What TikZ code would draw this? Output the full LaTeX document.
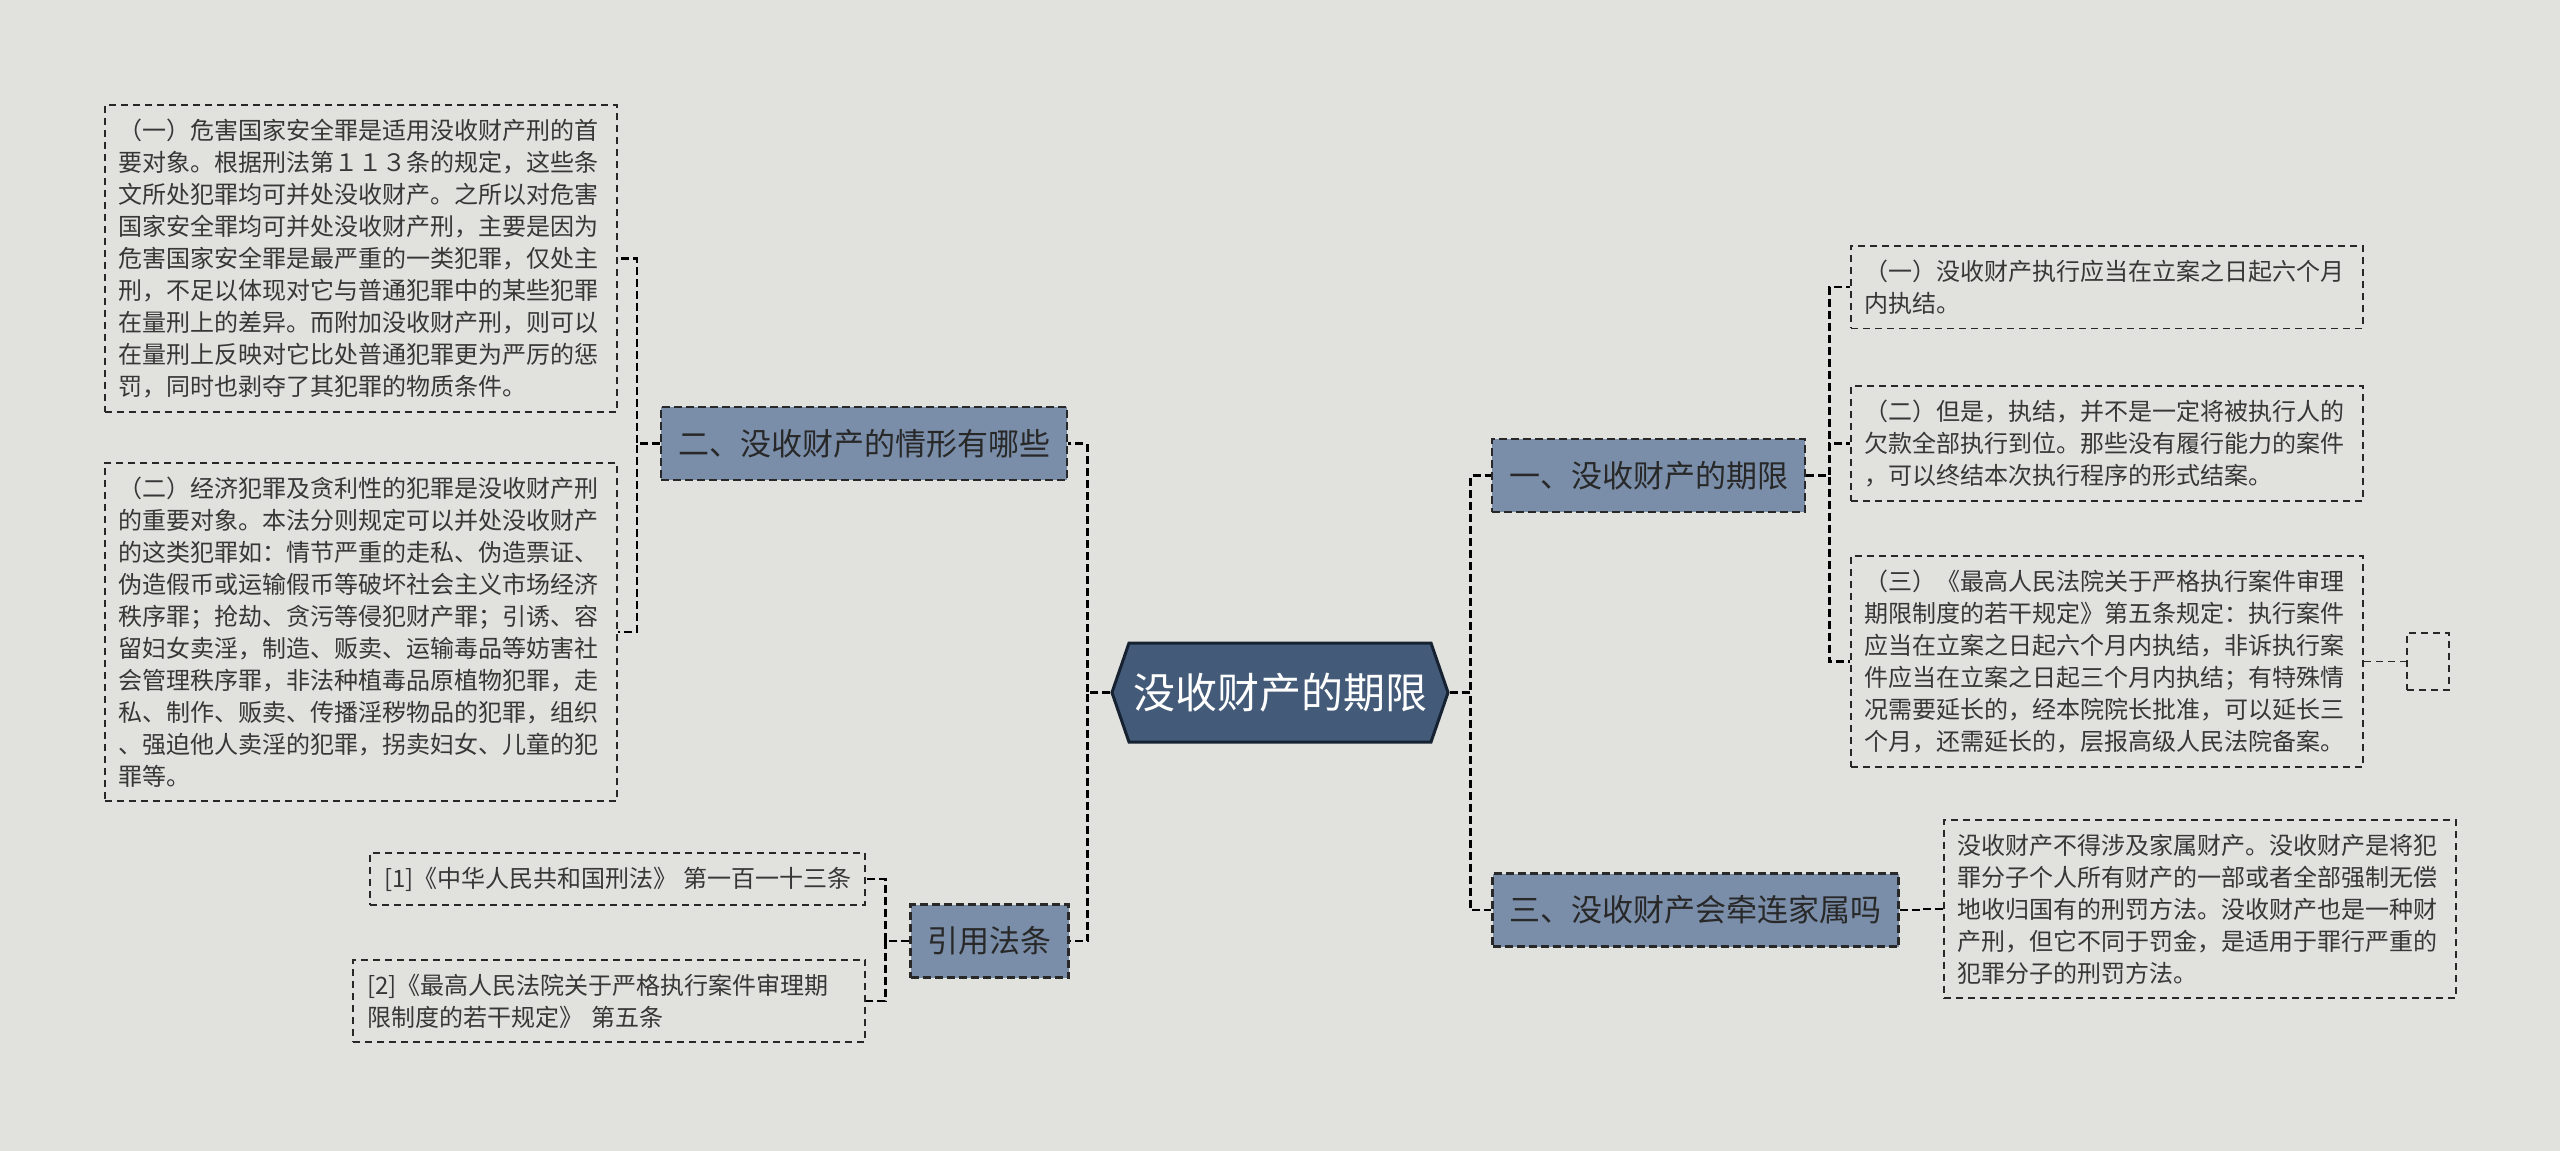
\documentclass[tikz,border=0pt]{standalone}
\usepackage{fontspec}
\setmainfont{Noto Sans CJK SC}
\usetikzlibrary{shapes.symbols}

\definecolor{canvas}{RGB}{225,226,221}
\definecolor{hubfill}{RGB}{67,90,120}
\definecolor{hubedge}{RGB}{22,34,50}
\definecolor{topicfill}{RGB}{122,142,170}
\definecolor{inkdark}{RGB}{40,40,40}
\definecolor{inkgray}{RGB}{55,55,55}

\tikzset{
  every node/.style={font=\fontsize{12}{16}\selectfont, text=inkgray},
  hub/.style={shape=signal, signal to=west and east, signal pointer angle=142, fill=hubfill, draw=hubedge, line width=1.5pt, text=white, font=\fontsize{21}{25}\selectfont, minimum height=49.5pt, inner xsep=2pt},
  topicbox/.style={fill=topicfill, draw=inkdark, line width=1.2pt, dash pattern=on 4pt off 2pt, text=inkdark, font=\fontsize{15.5}{18}\selectfont, minimum height=36.5pt, inner xsep=8.5pt},
  leafbox/.style={draw=inkdark, line width=0.9pt, dash pattern=on 3.5pt off 2.5pt, align=left, inner xsep=7pt, inner ysep=7pt},
  link/.style={draw=black, line width=1.3pt, dash pattern=on 4pt off 2pt},
  thinlink/.style={draw=inkdark, line width=0.9pt, dash pattern=on 3.5pt off 2.5pt},
}

\begin{document}
\begin{tikzpicture}[x=0.5pt,y=-0.5pt]
    \fill[canvas] (0,0) rectangle (2560,1151);
    \useasboundingbox (0,0) rectangle (2560,1151);

    \node[hub] (hub) at (1280,692.5) {没收财产的期限};

    \node[topicbox] (t2) at (864,443.5) {二、没收财产的情形有哪些};
    \node[topicbox] (tcite) at (989.5,941) {引用法条};
    \node[topicbox] (t1) at (1648.5,475.5) {一、没收财产的期限};
    \node[topicbox] (t3) at (1695.5,910) {三、没收财产会牵连家属吗};

    \node[leafbox, anchor=north west, text width=242pt] (l1) at (104,104) {（一）危害国家安全罪是适用没收财产刑的首\\要对象。根据刑法第１１３条的规定，这些条\\文所处犯罪均可并处没收财产。之所以对危害\\国家安全罪均可并处没收财产刑，主要是因为\\危害国家安全罪是最严重的一类犯罪，仅处主\\刑，不足以体现对它与普通犯罪中的某些犯罪\\在量刑上的差异。而附加没收财产刑，则可以\\在量刑上反映对它比处普通犯罪更为严厉的惩\\罚，同时也剥夺了其犯罪的物质条件。};
    \node[leafbox, anchor=north west, text width=242pt] (l2) at (104,462) {（二）经济犯罪及贪利性的犯罪是没收财产刑\\的重要对象。本法分则规定可以并处没收财产\\的这类犯罪如：情节严重的走私、伪造票证、\\伪造假币或运输假币等破坏社会主义市场经济\\秩序罪；抢劫、贪污等侵犯财产罪；引诱、容\\留妇女卖淫，制造、贩卖、运输毒品等妨害社\\会管理秩序罪，非法种植毒品原植物犯罪，走\\私、制作、贩卖、传播淫秽物品的犯罪，组织\\、强迫他人卖淫的犯罪，拐卖妇女、儿童的犯\\罪等。};
    \node[leafbox, anchor=north east] (c1) at (866,852) {[1]《中华人民共和国刑法》 第一百一十三条};
    \node[leafbox, anchor=north east, text width=242pt] (c2) at (866,959) {[2]《最高人民法院关于严格执行案件审理期\\限制度的若干规定》 第五条};

    \node[leafbox, anchor=north west, text width=242pt] (r1) at (1850,245) {（一）没收财产执行应当在立案之日起六个月\\内执结。};
    \node[leafbox, anchor=north west, text width=242pt] (r2) at (1850,385) {（二）但是，执结，并不是一定将被执行人的\\欠款全部执行到位。那些没有履行能力的案件\\，可以终结本次执行程序的形式结案。};
    \node[leafbox, anchor=north west, text width=242pt] (r3) at (1850,555) {（三）《最高人民法院关于严格执行案件审理\\期限制度的若干规定》第五条规定：执行案件\\应当在立案之日起六个月内执结，非诉执行案\\件应当在立案之日起三个月内执结；有特殊情\\况需要延长的，经本院院长批准，可以延长三\\个月，还需延长的，层报高级人民法院备案。};
    \node[leafbox, minimum width=21pt, minimum height=28.5pt, inner sep=0pt] (r3note) at ([xshift=32pt]r3.east) {};
    \node[leafbox, anchor=north west, text width=242pt] (r4) at (1943,819) {没收财产不得涉及家属财产。没收财产是将犯\\罪分子个人所有财产的一部或者全部强制无偿\\地收归国有的刑罚方法。没收财产也是一种财\\产刑，但它不同于罚金，是适用于罪行严重的\\犯罪分子的刑罚方法。};

    \draw[link] (hub.west) -- ++(-23,0) |- (t2.east);
    \draw[link] (hub.west) -- ++(-23,0) |- (tcite.east);
    \draw[link] (hub.east) -- ++(21,0) |- (t1.west);
    \draw[link] (hub.east) -- ++(21,0) |- (t3.west);

    \draw[link] (t2.west) -- ++(-23,0) |- (l1.east);
    \draw[link] (t2.west) -- ++(-23,0) |- (l2.east);
    \draw[link] (tcite.west) -- ++(-24,0) |- (c1.east);
    \draw[link] (tcite.west) -- ++(-24,0) |- (c2.east);

    \draw[link] (t1.east) -- ++(23,0) |- (r1.west);
    \draw[link] (t1.east) -- ++(23,0) |- (r2.west);
    \draw[link] (t1.east) -- ++(23,0) |- (r3.west);
    \draw[link] (t3.east) -- ++(21,0) |- (r4.west);
    \draw[thinlink] (r3.east) -- (r3note.west);
\end{tikzpicture}
\end{document}
